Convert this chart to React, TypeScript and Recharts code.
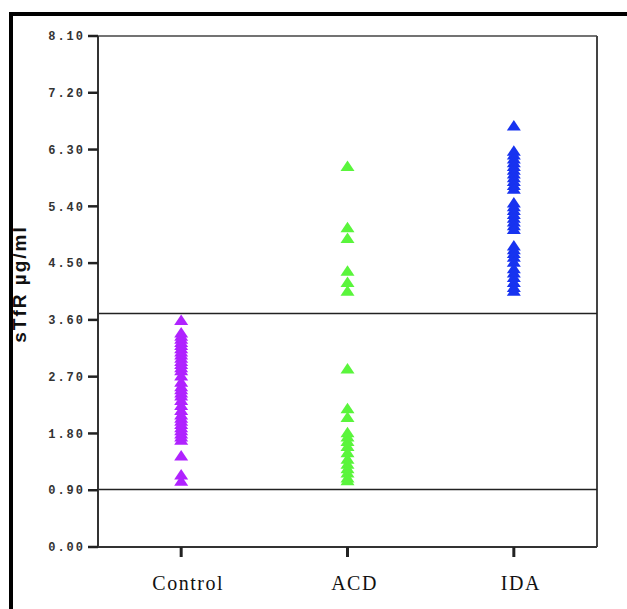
import React from 'react';
import { ScatterChart, Scatter, XAxis, YAxis, ReferenceLine } from 'recharts';

const categories = ['Control', 'ACD', 'IDA'];
const yTicks = [0, 0.9, 1.8, 2.7, 3.6, 4.5, 5.4, 6.3, 7.2, 8.1];
const referenceLevels = [3.7, 0.91];

const controlValues = [
  3.6, 3.4, 3.35, 3.3, 3.25, 3.2, 3.15, 3.1, 3.05, 3.0, 2.95, 2.9, 2.85, 2.8,
  2.72, 2.62, 2.55, 2.5, 2.45, 2.4, 2.33, 2.25, 2.17, 2.1, 2.05, 2.0, 1.95,
  1.9, 1.85, 1.8, 1.75, 1.7, 1.45, 1.15, 1.05,
];
const acdValues = [
  6.04, 5.07, 4.9, 4.38, 4.2, 4.06, 2.83, 2.2, 2.06, 1.82, 1.75, 1.68, 1.6,
  1.5, 1.4, 1.32, 1.25, 1.18, 1.1, 1.06,
];
const idaValues = [
  6.68, 6.28, 6.22, 6.16, 6.1, 6.04, 5.98, 5.92, 5.86, 5.8, 5.74, 5.68, 5.46,
  5.4, 5.34, 5.28, 5.22, 5.16, 5.1, 5.04, 4.78, 4.72, 4.66, 4.6, 4.52, 4.42,
  4.35, 4.28, 4.2, 4.12, 4.06,
];
const seriesColors = ['#B023FF', '#5AF53C', '#1733F0'];

const toPoints = (values: number[], idx: number) =>
  values.map((v) => ({ x: idx, y: v }));

const Triangle = (props: any) => {
  const { cx, cy, fill } = props;
  if (cx == null || cy == null) return null;
  return (
    <polygon
      points={`${cx},${cy - 5.5} ${cx + 7},${cy + 5} ${cx - 7},${cy + 5}`}
      fill={fill}
    />
  );
};

const YLabel = () => (
  <text
    x={26}
    y={284}
    transform="rotate(-90 26 284)"
    textAnchor="middle"
    fontFamily="Liberation Sans, Arial, sans-serif"
    fontWeight="bold"
    fontSize={19}
    letterSpacing={2}
    fill="#111"
  >
    sTfR µg/ml
  </text>
);

export default function App() {
  const series = [controlValues, acdValues, idaValues];
  return (
    <div
      style={{
        position: 'absolute',
        left: 0,
        top: 0,
        width: 627,
        height: 609,
        background: '#fff',
        overflow: 'hidden',
      }}
    >
      <div
        style={{
          position: 'absolute',
          left: 9,
          top: 12,
          width: 640,
          height: 640,
          borderTop: '4px solid #000',
          borderLeft: '4px solid #000',
        }}
      />
      <div style={{ position: 'absolute', left: 0, top: 0 }}>
        <ScatterChart
          width={627}
          height={609}
          margin={{ top: 36, right: 30, bottom: 12, left: 38 }}
        >
          <XAxis
            type="number"
            dataKey="x"
            domain={[-0.5, 2.5]}
            ticks={[0, 1, 2]}
            tickFormatter={(i: number) => categories[i] ?? ''}
            height={50}
            tickSize={10}
            tickMargin={19}
            axisLine={{ stroke: '#333', strokeWidth: 2 }}
            tickLine={{ stroke: '#222', strokeWidth: 3 }}
            tick={{
              fontFamily: 'Liberation Serif, Times New Roman, serif',
              fontSize: 20,
              fill: '#111',
              letterSpacing: 1.5,
              dx: 7,
            }}
            interval={0}
          />
          <YAxis
            type="number"
            dataKey="y"
            domain={[0, 8.1]}
            ticks={yTicks}
            tickFormatter={(v: number) => v.toFixed(2)}
            width={60}
            tickSize={10}
            tickMargin={3}
            axisLine={{ stroke: '#333', strokeWidth: 2 }}
            tickLine={{ stroke: '#222', strokeWidth: 2.5 }}
            tick={{
              fontFamily: 'Liberation Mono, DejaVu Sans Mono, monospace',
              fontSize: 12,
              fontWeight: 'bold',
              fill: '#333',
              letterSpacing: 2,
            }}
            interval={0}
            label={<YLabel />}
          />
          <ReferenceLine y={8.1} stroke="#444" strokeWidth={1.5} />
          <ReferenceLine x={2.5} stroke="#444" strokeWidth={2} />
          {referenceLevels.map((lvl) => (
            <ReferenceLine key={lvl} y={lvl} stroke="#222" strokeWidth={1.5} />
          ))}
          {series.map((vals, i) => (
            <Scatter
              key={categories[i]}
              name={categories[i]}
              data={toPoints(vals, i)}
              fill={seriesColors[i]}
              shape={<Triangle />}
              isAnimationActive={false}
            />
          ))}
        </ScatterChart>
      </div>
    </div>
  );
}
